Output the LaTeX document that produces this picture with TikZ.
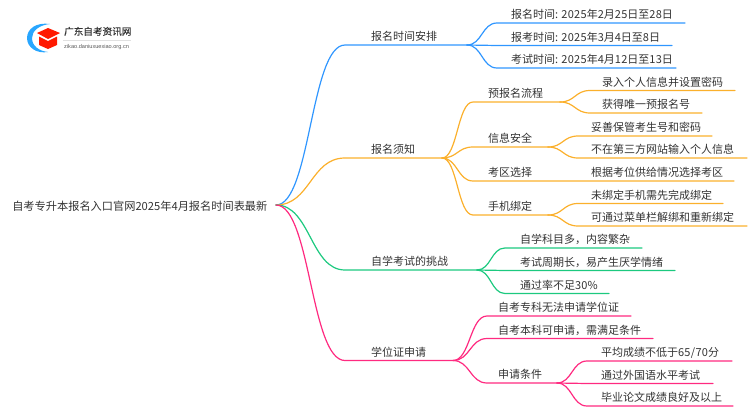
\documentclass[tikz,border=0pt]{standalone}
\usepackage{fontspec}
\setmainfont{Noto Sans CJK SC}
\newfontfamily\latinsmall{Liberation Sans}
\newfontfamily\logofont[FakeBold=0.4]{Noto Sans CJK SC}
\newcommand{\dg}[1]{{\addfontfeature{LetterSpace=3}#1}}
\usetikzlibrary{calc}
\definecolor{cblue}{HTML}{2F96FF}
\definecolor{corange}{HTML}{FBB02C}
\definecolor{cgreen}{HTML}{1CC97F}
\definecolor{cpink}{HTML}{FF2A80}
\definecolor{ctext}{HTML}{333333}
\tikzset{
  lab/.style={anchor=base west,inner sep=0pt,outer sep=0pt,font=\fontsize{11}{13}\selectfont,text=ctext},
  conn/.style={line width=1.2pt,line cap=round}
}
% name, colour, parent, bend x, y, end x, text x, text
\newcommand{\leafnode}[8]{%
  \coordinate (#1-b) at (#4,#5);
  \coordinate (#1-e) at (#6,#5);
  \node[lab] (#1) at (#7,#5-4.5) {#8};
  \draw[conn,#2] let \p1=(#3), \p2=(#1-b) in
    (#3) .. controls ({\x1/2+\x2/2},\y1) and ({\x1/2+\x2/2},\y2) .. (#1-b) -- (#1-e);
}
\begin{document}
\begin{tikzpicture}[x=1pt,y=-1pt]
\useasboundingbox (0,0) rectangle (750,410);
% logo
\fill[cblue!85!cyan] (50,24) .. controls (36,22) and (27,29) .. (27,38) .. controls (27,47) and (36,54) .. (48,52) .. controls (39,51) and (32,46) .. (32,38) .. controls (32,31) and (39,25) .. (50,24) -- cycle;
\fill[red!80!orange] (37,33) -- (48,28) -- (60,33) -- (48,39) -- cycle;
\fill[red!80!orange] (39,36.5) -- (48,41) -- (57,36.5) -- (57,45) -- (48,49) -- (39,45) -- cycle;
\node[anchor=base west,inner sep=0pt,font=\logofont\fontsize{9.6}{11}\selectfont,text=ctext] (logotitle) at (64,35) {广东自考资讯网};
\draw[black!12,line width=0.5pt] (63,40) -- (131,40);
\node[anchor=base west,inner sep=0pt,font=\latinsmall\fontsize{5.6}{6}\selectfont,text=black!65] (logosub) at (64,48.5) {zikao.daniuxuexiao.org.cn};
% root
\node[lab,font=\fontsize{11.2}{13}\selectfont] (root) at (12.3,210) {自考专升本报名入口官网2025年4月报名时间表最新};
\coordinate (o) at (276,205);
% blue
\leafnode{a}{cblue}{o}{345}{45}{467}{371}{报名时间安排}
\leafnode{a1}{cblue}{a-e}{497}{23}{685}{511}{报名时间: \dg{2025}年\dg{2}月\dg{25}日至\dg{28}日}
\leafnode{a2}{cblue}{a-e}{497}{45.5}{672}{511}{报考时间: \dg{2025}年\dg{3}月\dg{4}日至\dg{8}日}
\leafnode{a3}{cblue}{a-e}{497}{68}{676}{511}{考试时间: \dg{2025}年\dg{4}月\dg{12}日至\dg{13}日}
% orange
\leafnode{b}{corange}{o}{345}{158}{442}{371}{报名须知}
\leafnode{b1}{corange}{b-e}{473}{102}{560}{488}{预报名流程}
\leafnode{b11}{corange}{b1-e}{590}{90.5}{735}{602}{录入个人信息并设置密码}
\leafnode{b12}{corange}{b1-e}{590}{113}{702}{602}{获得唯一预报名号}
\leafnode{b2}{corange}{b-e}{473}{147}{548}{488}{信息安全}
\leafnode{b21}{corange}{b2-e}{578}{136}{712}{591}{妥善保管考生号和密码}
\leafnode{b22}{corange}{b2-e}{578}{158}{747}{591}{不在第三方网站输入个人信息}
\leafnode{b3}{corange}{b-e}{473}{181}{734}{488}{考区选择}
\node[lab] (b31) at (591,176.5) {根据考位供给情况选择考区};
\leafnode{b4}{corange}{b-e}{473}{215}{548}{488}{手机绑定}
\leafnode{b41}{corange}{b4-e}{578}{203.5}{723}{591}{未绑定手机需先完成绑定}
\leafnode{b42}{corange}{b4-e}{578}{226}{747}{591}{可通过菜单栏解绑和重新绑定}
% green
\leafnode{c}{cgreen}{o}{345}{270}{477}{371}{自学考试的挑战}
\leafnode{c1}{cgreen}{c-e}{505}{248}{642}{520}{自学科目多，内容繁杂}
\leafnode{c2}{cgreen}{c-e}{505}{270.5}{675}{520}{考试周期长，易产生厌学情绪}
\leafnode{c3}{cgreen}{c-e}{505}{293.5}{609}{520}{通过率不足\dg{30}\%}
% pink
\leafnode{d}{cpink}{o}{345}{360.5}{453}{371}{学位证申请}
\leafnode{d1}{cpink}{d-e}{487}{316}{631}{498}{自考专科无法申请学位证}
\leafnode{d2}{cpink}{d-e}{487}{338.5}{653}{498}{自考本科可申请，需满足条件}
\leafnode{d3}{cpink}{d-e}{487}{383}{557}{498}{申请条件}
\leafnode{d31}{cpink}{d3-e}{587}{361}{732}{601}{平均成绩不低于\dg{65/70}分}
\leafnode{d32}{cpink}{d3-e}{587}{383.5}{713}{601}{通过外国语水平考试}
\leafnode{d33}{cpink}{d3-e}{587}{406}{733}{601}{毕业论文成绩良好及以上}
\end{tikzpicture}
\end{document}
